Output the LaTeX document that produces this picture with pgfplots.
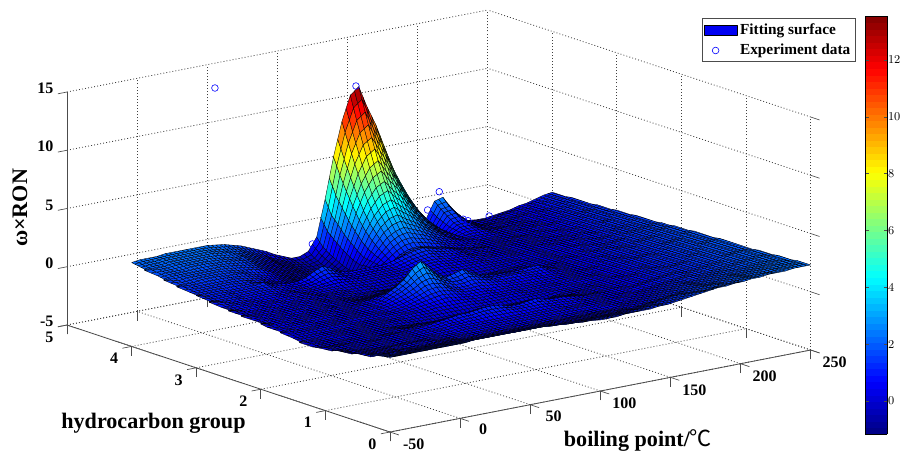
\documentclass[border=0pt]{standalone}
\usepackage{fontspec}
\setmainfont{Liberation Serif}
\newfontfamily\cjk{Noto Sans CJK SC}
\newfontfamily\arial{Liberation Sans}
\usepackage{pgfplots}
\usepgfplotslibrary{patchplots}
\pgfplotsset{compat=1.18}
\begin{document}
\begin{tikzpicture}
\path[use as bounding box] (0pt,0pt) rectangle (675pt,-339pt);
\begin{axis}[
  at={(345.08pt,-270.08pt)},anchor=origin,
  x={(1.0517pt,.205pt)},y={(-48.45pt,16.05pt)},z={(0pt,8.7375pt)},
  xmin=-50,xmax=250,ymin=0,ymax=5,zmin=-5,zmax=15,
  xtick={-50,0,50,100,150,200,250},ytick={0,1,2,3,4,5},ztick={-5,0,5,10,15},
  grid=major,grid style={dash pattern=on .7pt off 1.6pt,black!75,line width=.6pt},
  axis line style={draw=none},
  tick pos=left,
  tick align=outside,major tick length=7pt,tick style={black!70,line width=.5pt},
  /pgf/number format/assume math mode=true,
  ticklabel style={font=\bfseries\fontsize{12}{12}\selectfont},
  xticklabel style={xshift=5pt,yshift=1.5pt},
  clip=false,
  colormap/jet,point meta min=-1.16,point meta max=13.55,
  colorbar sampled,
  colorbar style={at={(640.5pt,-12pt)},anchor=north west,width=16.3pt,height=313.5pt,scale only axis,samples=65,
    ytick={0,2,...,12},ymin=-1.16,ymax=13.55,tick align=inside,major tick length=2.5pt,
    yticklabel style={font=\arial\fontsize{9}{9}\selectfont,inner sep=.5pt},ytick pos=both,yticklabel pos=right},
  legend style={at={(1.06,.98)},anchor=north east,draw=black!70,font=\bfseries\fontsize{11.5}{13}\selectfont,inner sep=1.5pt,row sep=2pt,cells={anchor=west}},
]
\addplot3[patch,patch type=bilinear,mesh input=lattice,patch refines=1,shader=faceted,faceted color=black,line width=.25pt,mesh/cols=51,mesh/rows=41,z buffer=none,
  legend image code/.code={\fill[draw=black,fill=blue!95!black] (0cm,-.13cm) rectangle (.87cm,.13cm);}]
 table[row sep=\\,x expr={-50+6*mod(\coordindex,51)},y expr={4-0.1*floor(\coordindex/51)},z=z]{
z\\
2.2\\2.3\\2.3\\2.3\\2.4\\2.4\\2.4\\2.4\\2.4\\2.4\\2.3\\2.2\\2.0\\1.8\\1.5\\1.2\\.9\\.5\\.2\\-.1\\-.1\\.2\\1.3\\4.4\\7.9\\10.8\\12.9\\13.5\\11.6\\10.0\\8.0\\6.0\\4.5\\3.0\\1.8\\1.0\\2.4\\2.6\\1.5\\.5\\.2\\.1\\.1\\.2\\.3\\.4\\.6\\.7\\.9\\1.1\\1.2\\
2.1\\2.2\\2.2\\2.3\\2.3\\2.3\\2.3\\2.3\\2.3\\2.2\\2.1\\2.0\\1.8\\1.5\\1.2\\.9\\.5\\.2\\-.1\\-.3\\-.4\\-.2\\.6\\3.2\\6.5\\9.1\\10.9\\11.5\\9.9\\8.4\\6.7\\5.0\\3.7\\2.5\\1.4\\.7\\1.9\\2.0\\1.2\\.5\\.2\\.2\\.2\\.3\\.4\\.5\\.6\\.8\\.9\\1.1\\1.2\\
2.0\\2.1\\2.1\\2.2\\2.2\\2.2\\2.2\\2.2\\2.2\\2.1\\2.0\\1.8\\1.6\\1.3\\1.0\\.7\\.3\\0\\-.3\\-.5\\-.6\\-.5\\.2\\2.6\\5.3\\7.5\\9.0\\9.5\\8.2\\6.9\\5.5\\4.1\\3.0\\2.0\\1.2\\.6\\1.5\\1.6\\1.0\\.4\\.2\\.2\\.3\\.3\\.4\\.5\\.7\\.8\\1.0\\1.1\\1.2\\
1.9\\2.0\\2.0\\2.1\\2.1\\2.1\\2.1\\2.1\\2.0\\1.9\\1.8\\1.7\\1.4\\1.1\\.8\\.5\\.1\\-.2\\-.5\\-.7\\-.8\\-.7\\-.1\\1.9\\4.2\\6.0\\7.2\\7.7\\6.6\\5.6\\4.5\\3.4\\2.5\\1.7\\1.0\\.5\\1.1\\1.2\\.8\\.4\\.3\\.3\\.3\\.4\\.5\\.6\\.7\\.8\\1.0\\1.1\\1.3\\
1.8\\1.9\\1.9\\1.9\\2.0\\2.0\\2.0\\1.9\\1.9\\1.8\\1.7\\1.5\\1.2\\.9\\.6\\.2\\-.1\\-.4\\-.7\\-.9\\-1.0\\-.9\\-.4\\1.4\\3.2\\4.7\\5.7\\6.1\\5.2\\4.5\\3.6\\2.7\\2.0\\1.4\\.9\\.5\\.9\\.9\\.7\\.4\\.3\\.3\\.4\\.4\\.5\\.6\\.8\\.9\\1.0\\1.2\\1.3\\
1.7\\1.8\\1.8\\1.8\\1.8\\1.8\\1.8\\1.8\\1.7\\1.6\\1.5\\1.3\\1.0\\.7\\.3\\0\\-.4\\-.7\\-1.0\\-1.1\\-1.1\\-1.0\\-.6\\.9\\2.4\\3.6\\4.4\\4.7\\4.1\\3.5\\2.8\\2.1\\1.6\\1.1\\.8\\.5\\.7\\.7\\.6\\.4\\.4\\.4\\.4\\.5\\.5\\.7\\.8\\.9\\1.1\\1.2\\1.3\\
1.6\\1.6\\1.7\\1.7\\1.7\\1.7\\1.7\\1.6\\1.5\\1.4\\1.3\\1.1\\.8\\.4\\.1\\-.3\\-.6\\-.9\\-1.1\\-1.1\\-1.1\\-1.0\\-.6\\.5\\1.8\\2.8\\3.4\\3.6\\3.1\\2.7\\2.2\\1.7\\1.3\\.9\\.6\\.5\\.5\\.5\\.5\\.4\\.4\\.4\\.5\\.5\\.6\\.7\\.8\\1.0\\1.1\\1.2\\1.3\\
1.5\\1.5\\1.5\\1.6\\1.6\\1.6\\1.5\\1.5\\1.4\\1.2\\1.0\\.8\\.5\\.2\\-.1\\-.4\\-.7\\-.9\\-1.0\\-1.0\\-1.0\\-.8\\-.4\\.4\\1.3\\2.1\\2.5\\2.7\\2.4\\2.1\\1.7\\1.3\\1.0\\.8\\.6\\.5\\.4\\.4\\.4\\.4\\.4\\.5\\.5\\.6\\.6\\.7\\.9\\1.0\\1.1\\1.2\\1.4\\
1.4\\1.4\\1.4\\1.4\\1.4\\1.4\\1.4\\1.3\\1.2\\1.0\\.8\\.5\\.3\\0\\-.3\\-.5\\-.6\\-.7\\-.7\\-.7\\-.7\\-.6\\-.3\\.3\\.9\\1.5\\1.9\\2.0\\1.8\\1.6\\1.3\\1.0\\.8\\.6\\.5\\.4\\.4\\.4\\.4\\.4\\.4\\.5\\.5\\.6\\.7\\.8\\.9\\1.0\\1.2\\1.3\\1.4\\
1.3\\1.3\\1.3\\1.3\\1.3\\1.3\\1.2\\1.2\\1.0\\.9\\.6\\.4\\.2\\0\\-.1\\-.2\\-.2\\-.2\\-.2\\-.2\\-.2\\-.2\\-.2\\.1\\.5\\1.0\\1.3\\1.4\\1.3\\1.1\\1.0\\.8\\.6\\.5\\.4\\.4\\.4\\.4\\.4\\.5\\.5\\.5\\.6\\.6\\.7\\.8\\.9\\1.1\\1.2\\1.3\\1.4\\
1.25\\1.2\\1.2\\1.2\\1.1\\1.1\\1.1\\1.1\\1.2\\.9\\.8\\.7\\.7\\.9\\1.3\\1.6\\1.3\\.9\\.7\\.7\\.7\\.7\\.7\\.8\\1.0\\1.2\\1.4\\1.5\\1.3\\1.1\\1.0\\.8\\.6\\.5\\.5\\.4\\.4\\.4\\.5\\.5\\.5\\.5\\.6\\.7\\.7\\.8\\1.0\\1.1\\1.2\\1.3\\1.5\\
1.2\\1.1\\1.1\\1.1\\1.0\\1.0\\1.0\\1.0\\1.0\\.8\\.7\\.6\\.6\\.7\\1.0\\1.2\\1.0\\.7\\.6\\.6\\.6\\.6\\.6\\.6\\.8\\1.0\\1.1\\1.2\\1.0\\.9\\.8\\.7\\.5\\.5\\.4\\.4\\.4\\.5\\.5\\.5\\.5\\.6\\.6\\.7\\.8\\.9\\1.0\\1.1\\1.2\\1.4\\1.5\\
1.1\\1.0\\1.0\\1.0\\.9\\.9\\.9\\.9\\.8\\.7\\.6\\.6\\.5\\.6\\.7\\.8\\.7\\.6\\.5\\.5\\.5\\.5\\.5\\.5\\.6\\.8\\.9\\.9\\.8\\.7\\.7\\.6\\.5\\.4\\.4\\.4\\.4\\.5\\.5\\.5\\.6\\.6\\.7\\.7\\.8\\.9\\1.0\\1.2\\1.3\\1.4\\1.5\\
1.0\\1.0\\.9\\.9\\.8\\.8\\.8\\.8\\.7\\.7\\.6\\.5\\.5\\.5\\.5\\.5\\.5\\.4\\.4\\.4\\.4\\.4\\.4\\.4\\.5\\.6\\.7\\.7\\.6\\.6\\.5\\.5\\.4\\.4\\.4\\.4\\.4\\.5\\.5\\.6\\.6\\.7\\.7\\.8\\.9\\.9\\1.1\\1.2\\1.3\\1.4\\1.6\\
.9\\.9\\.9\\.8\\.8\\.7\\.7\\.7\\.7\\.6\\.6\\.5\\.4\\.4\\.4\\.3\\.3\\.3\\.2\\.2\\.2\\.2\\.2\\.3\\.3\\.4\\.5\\.5\\.4\\.4\\.4\\.4\\.3\\.3\\.3\\.4\\.4\\.5\\.5\\.6\\.7\\.7\\.8\\.8\\.9\\1.0\\1.1\\1.2\\1.3\\1.5\\1.6\\
.9\\.8\\.8\\.8\\.7\\.7\\.7\\.6\\.6\\.6\\.5\\.5\\.4\\.4\\.3\\.2\\.1\\.1\\0\\0\\0\\0\\0\\.1\\.1\\.2\\.2\\.2\\.2\\.2\\.2\\.2\\.2\\.2\\.3\\.3\\.4\\.5\\.5\\.6\\.7\\.7\\.8\\.9\\.9\\1.0\\1.2\\1.3\\1.4\\1.5\\1.6\\
.8\\.8\\.7\\.7\\.7\\.6\\.6\\.6\\.6\\.5\\.5\\.4\\.4\\.3\\.2\\.1\\.1\\.1\\.2\\.2\\.2\\.1\\.1\\.1\\.1\\.1\\0\\0\\0\\0\\0\\0\\.1\\.1\\.2\\.3\\.4\\.5\\.5\\.6\\.7\\.8\\.8\\.9\\1.0\\1.1\\1.2\\1.3\\1.4\\1.5\\1.6\\
.8\\.7\\.7\\.7\\.6\\.6\\.6\\.6\\.5\\.5\\.5\\.4\\.4\\.3\\.2\\.2\\.2\\.3\\.5\\.6\\.5\\.3\\.2\\.2\\.2\\.1\\.1\\.1\\.1\\.1\\.1\\.1\\.1\\.2\\.2\\.3\\.4\\.5\\.5\\.6\\.7\\.8\\.9\\.9\\1.0\\1.1\\1.3\\1.4\\1.5\\1.6\\1.7\\
.7\\.7\\.7\\.6\\.6\\.6\\.6\\.5\\.5\\.5\\.4\\.4\\.4\\.4\\.4\\.5\\.6\\.8\\1.1\\1.3\\1.1\\.7\\.5\\.5\\.6\\.5\\.4\\.3\\.2\\.2\\.2\\.2\\.2\\.2\\.3\\.3\\.4\\.5\\.6\\.6\\.8\\.8\\.9\\1.0\\1.1\\1.2\\1.3\\1.4\\1.5\\1.6\\1.7\\
.7\\.7\\.6\\.6\\.6\\.5\\.5\\.5\\.5\\.5\\.4\\.4\\.4\\.5\\.6\\.8\\1.0\\1.4\\1.9\\2.2\\1.8\\1.3\\1.0\\1.0\\1.1\\1.0\\.8\\.7\\.6\\.6\\.6\\.6\\.6\\.6\\.5\\.4\\.5\\.5\\.6\\.7\\.8\\.9\\1.0\\1.0\\1.1\\1.2\\1.3\\1.4\\1.6\\1.7\\1.8\\
.7\\.6\\.6\\.6\\.5\\.5\\.5\\.5\\.5\\.4\\.4\\.4\\.5\\.5\\.7\\1.1\\1.5\\2.0\\2.8\\3.3\\2.6\\1.9\\1.5\\1.7\\1.9\\1.5\\1.2\\1.0\\.9\\.9\\.9\\.9\\1.0\\1.0\\.7\\.5\\.5\\.5\\.6\\.7\\.8\\.9\\1.0\\1.1\\1.1\\1.3\\1.4\\1.5\\1.6\\1.7\\1.8\\
.6\\.6\\.6\\.5\\.5\\.5\\.5\\.5\\.4\\.4\\.4\\.4\\.5\\.5\\.7\\1.0\\1.3\\1.7\\2.2\\2.5\\2.1\\1.6\\1.3\\1.3\\1.5\\1.3\\1.1\\.9\\.9\\.9\\.9\\.8\\.8\\.8\\.6\\.5\\.5\\.5\\.6\\.7\\.9\\.9\\1.0\\1.1\\1.2\\1.3\\1.4\\1.5\\1.6\\1.7\\1.8\\
.5\\.5\\.5\\.5\\.5\\.4\\.4\\.4\\.4\\.4\\.4\\.4\\.4\\.5\\.6\\.8\\1.0\\1.3\\1.7\\1.8\\1.6\\1.2\\1.0\\1.0\\1.1\\1.0\\.9\\.8\\.7\\.7\\.7\\.7\\.6\\.6\\.5\\.5\\.5\\.5\\.6\\.8\\.9\\.9\\1.0\\1.1\\1.2\\1.3\\1.4\\1.5\\1.6\\1.8\\1.9\\
.5\\.5\\.4\\.4\\.4\\.4\\.4\\.4\\.4\\.4\\.4\\.4\\.4\\.4\\.5\\.6\\.8\\1.0\\1.2\\1.3\\1.2\\1.0\\.8\\.8\\.8\\.7\\.7\\.6\\.6\\.5\\.5\\.5\\.5\\.5\\.5\\.5\\.5\\.6\\.7\\.8\\.9\\1.0\\1.0\\1.1\\1.2\\1.3\\1.5\\1.6\\1.7\\1.8\\1.9\\
.4\\.4\\.4\\.4\\.4\\.4\\.4\\.4\\.3\\.3\\.3\\.3\\.4\\.4\\.4\\.5\\.6\\.7\\.8\\.9\\.8\\.7\\.6\\.6\\.6\\.5\\.5\\.5\\.4\\.4\\.4\\.4\\.4\\.5\\.5\\.5\\.5\\.6\\.7\\.8\\.9\\1.0\\1.1\\1.2\\1.2\\1.4\\1.5\\1.6\\1.7\\1.8\\1.9\\
.3\\.3\\.3\\.3\\.3\\.3\\.3\\.3\\.3\\.3\\.3\\.3\\.3\\.3\\.4\\.4\\.4\\.5\\.5\\.5\\.5\\.5\\.4\\.4\\.4\\.4\\.4\\.4\\.3\\.3\\.3\\.4\\.4\\.4\\.5\\.5\\.6\\.6\\.7\\.8\\.9\\1.0\\1.1\\1.2\\1.3\\1.4\\1.5\\1.6\\1.7\\1.8\\1.9\\
.2\\.2\\.2\\.3\\.3\\.3\\.3\\.3\\.3\\.3\\.3\\.3\\.3\\.2\\.2\\.2\\.2\\.2\\.2\\.2\\.2\\.2\\.2\\.2\\.2\\.2\\.2\\.2\\.2\\.2\\.3\\.3\\.3\\.4\\.4\\.5\\.6\\.6\\.7\\.8\\.9\\1.0\\1.1\\1.2\\1.3\\1.4\\1.5\\1.6\\1.8\\1.9\\2.0\\
.1\\.2\\.2\\.2\\.3\\.3\\.3\\.3\\.3\\.3\\.2\\.2\\.1\\.1\\0\\0\\-.1\\-.1\\-.1\\-.1\\-.1\\-.1\\-.1\\-.1\\-.1\\-.1\\-.1\\0\\0\\.1\\.2\\.3\\.3\\.4\\.4\\.5\\.6\\.7\\.7\\.8\\1.0\\1.0\\1.1\\1.2\\1.3\\1.4\\1.5\\1.7\\1.8\\1.9\\2.0\\
.1\\.2\\.2\\.2\\.2\\.3\\.3\\.3\\.3\\.3\\.3\\.2\\.2\\.2\\.2\\.2\\.2\\.2\\.2\\.3\\.3\\.3\\.3\\.2\\.2\\.2\\.2\\.2\\.2\\.3\\.3\\.3\\.4\\.4\\.5\\.5\\.6\\.7\\.8\\.9\\1.0\\1.1\\1.1\\1.2\\1.3\\1.5\\1.6\\1.7\\1.8\\1.9\\2.0\\
.2\\.2\\.2\\.2\\.3\\.3\\.3\\.3\\.3\\.3\\.4\\.4\\.5\\.5\\.6\\.6\\.7\\.7\\.8\\.9\\.9\\.8\\.7\\.7\\.7\\.8\\.7\\.6\\.6\\.6\\.5\\.4\\.4\\.4\\.5\\.5\\.6\\.7\\.8\\.9\\1.0\\1.1\\1.2\\1.3\\1.4\\1.5\\1.6\\1.7\\1.8\\1.9\\2.0\\
.2\\.3\\.3\\.3\\.3\\.3\\.3\\.4\\.4\\.4\\.4\\.5\\.6\\.7\\.8\\.9\\1.0\\1.0\\1.1\\1.2\\1.2\\1.1\\.9\\.9\\1.0\\1.1\\.9\\.8\\.8\\.7\\.6\\.5\\.5\\.5\\.5\\.6\\.6\\.7\\.8\\.9\\1.0\\1.1\\1.2\\1.3\\1.4\\1.5\\1.6\\1.7\\1.8\\1.9\\2.0\\
.3\\.3\\.3\\.3\\.3\\.4\\.4\\.4\\.4\\.4\\.4\\.5\\.5\\.6\\.7\\.7\\.8\\.8\\.9\\.9\\.9\\.9\\.8\\.8\\.8\\.8\\.7\\.7\\.6\\.6\\.5\\.5\\.5\\.5\\.5\\.6\\.7\\.8\\.9\\1.0\\1.1\\1.2\\1.2\\1.3\\1.4\\1.5\\1.6\\1.8\\1.9\\2.0\\2.0\\
.4\\.4\\.3\\.3\\.4\\.4\\.4\\.4\\.4\\.4\\.4\\.4\\.5\\.5\\.6\\.6\\.6\\.6\\.6\\.6\\.6\\.6\\.6\\.6\\.6\\.6\\.6\\.5\\.5\\.5\\.5\\.5\\.5\\.5\\.6\\.6\\.7\\.8\\.9\\1.0\\1.1\\1.2\\1.3\\1.4\\1.5\\1.6\\1.7\\1.8\\1.9\\2.0\\2.1\\
.5\\.4\\.4\\.4\\.4\\.4\\.4\\.4\\.4\\.4\\.4\\.4\\.4\\.4\\.5\\.5\\.5\\.5\\.5\\.5\\.5\\.5\\.5\\.5\\.5\\.5\\.5\\.5\\.5\\.5\\.5\\.5\\.5\\.6\\.6\\.7\\.8\\.9\\1.0\\1.1\\1.2\\1.3\\1.3\\1.4\\1.5\\1.6\\1.7\\1.8\\1.9\\2.0\\2.1\\
.6\\.5\\.5\\.5\\.5\\.5\\.5\\.5\\.5\\.5\\.4\\.4\\.4\\.4\\.4\\.4\\.4\\.4\\.4\\.4\\.4\\.4\\.4\\.4\\.4\\.4\\.4\\.4\\.4\\.4\\.5\\.5\\.5\\.6\\.7\\.8\\.9\\1.0\\1.1\\1.2\\1.2\\1.3\\1.4\\1.5\\1.6\\1.7\\1.8\\1.9\\2.0\\2.1\\2.1\\
.7\\.6\\.6\\.6\\.6\\.5\\.5\\.5\\.5\\.5\\.5\\.5\\.4\\.4\\.4\\.4\\.4\\.4\\.4\\.4\\.4\\.4\\.4\\.4\\.4\\.4\\.4\\.4\\.4\\.4\\.4\\.5\\.6\\.7\\.8\\.9\\1.0\\1.1\\1.2\\1.3\\1.3\\1.4\\1.5\\1.6\\1.7\\1.7\\1.8\\1.9\\2.0\\2.1\\2.2\\
.8\\.8\\.7\\.7\\.7\\.7\\.6\\.6\\.6\\.6\\.6\\.6\\.5\\.5\\.5\\.5\\.5\\.5\\.5\\.5\\.5\\.5\\.5\\.5\\.5\\.5\\.5\\.5\\.5\\.5\\.5\\.6\\.7\\.8\\.9\\1.0\\1.1\\1.2\\1.3\\1.4\\1.4\\1.5\\1.6\\1.7\\1.7\\1.8\\1.9\\2.0\\2.1\\2.1\\2.2\\
.9\\.9\\.9\\.9\\.8\\.8\\.8\\.8\\.8\\.8\\.8\\.7\\.7\\.7\\.7\\.7\\.7\\.7\\.7\\.7\\.7\\.7\\.6\\.6\\.6\\.6\\.6\\.6\\.6\\.6\\.7\\.7\\.8\\.9\\1.0\\1.1\\1.2\\1.3\\1.4\\1.5\\1.5\\1.6\\1.7\\1.8\\1.8\\1.9\\2.0\\2.1\\2.1\\2.2\\2.2\\
1.1\\1.1\\1.0\\1.0\\1.0\\1.0\\1.0\\1.0\\1.0\\1.0\\1.0\\1.0\\1.0\\1.0\\1.0\\1.0\\.9\\.9\\.9\\.9\\.9\\.9\\.8\\.8\\.8\\.8\\.8\\.8\\.8\\.8\\.9\\.9\\1.0\\1.1\\1.2\\1.3\\1.4\\1.4\\1.5\\1.6\\1.7\\1.7\\1.8\\1.9\\1.9\\2.0\\2.1\\2.1\\2.2\\2.2\\2.3\\
1.3\\1.2\\1.2\\1.2\\1.2\\1.2\\1.2\\1.2\\1.2\\1.2\\1.2\\1.2\\1.2\\1.2\\1.2\\1.2\\1.2\\1.2\\1.2\\1.2\\1.1\\1.1\\1.0\\1.0\\1.0\\1.0\\1.0\\1.0\\1.0\\1.0\\1.1\\1.1\\1.2\\1.2\\1.3\\1.4\\1.5\\1.6\\1.6\\1.7\\1.8\\1.8\\1.9\\2.0\\2.0\\2.1\\2.1\\2.2\\2.2\\2.3\\2.3\\
1.4\\1.4\\1.4\\1.4\\1.4\\1.4\\1.4\\1.4\\1.4\\1.4\\1.5\\1.5\\1.5\\1.5\\1.5\\1.5\\1.5\\1.5\\1.5\\1.5\\1.4\\1.3\\1.3\\1.2\\1.2\\1.1\\1.1\\1.1\\1.2\\1.2\\1.2\\1.2\\1.3\\1.3\\1.4\\1.5\\1.6\\1.7\\1.8\\1.9\\1.9\\2.0\\2.0\\2.1\\2.1\\2.2\\2.2\\2.2\\2.3\\2.3\\2.3\\
};
\addlegendentry{Fitting surface}
\addplot3[only marks,mark=o,mark size=2.5pt,blue,mark options={line width=.45pt}] coordinates {
(55.5,5,12.87) (110,4,13.6) (161.1,4,1.76) (169.4,4,3.13) (164,4,1.0) (186.5,4,.37) (189.9,4,.16) (205,4,.21) (78.9,4,.77)};
\addlegendentry{Experiment data}
\draw[black!70,line width=.6pt] (axis cs:-50,0,-5) -- (axis cs:250,0,-5);
\draw[black!70,line width=.6pt] (axis cs:-50,0,-5) -- (axis cs:-50,5,-5);
\draw[black!70,line width=.6pt] (axis cs:-50,5,-5) -- (axis cs:-50,5,15);
\end{axis}
\node[font=\bfseries\fontsize{16.6}{16.6}\selectfont] at (115.1pt,-317.2pt) {hydrocarbon group};
\node[font=\bfseries\fontsize{16.6}{16.6}\selectfont] at (478.5pt,-330.5pt) {boiling point/{\mdseries\cjk ℃}};
\node[font=\bfseries\fontsize{16.6}{16.6}\selectfont,rotate=90] at (15pt,-156pt) {ω×RON};
\end{tikzpicture}
\end{document}
